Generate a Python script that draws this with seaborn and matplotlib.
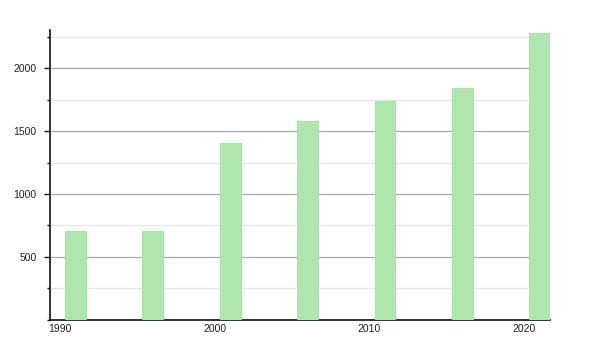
import matplotlib
matplotlib.use("Agg")
import matplotlib.pyplot as plt
import seaborn as sns
import pandas as pd
from matplotlib.ticker import MultipleLocator

years = [1991, 1996, 2001, 2006, 2011, 2016, 2021]
values = [706, 705, 1407, 1583, 1742, 1846, 2282]
xticks = [1990, 2000, 2010, 2020]

df = pd.DataFrame({"year": years, "value": values})

sns.set_style("white")
plt.rcParams["font.family"] = ["Liberation Sans", "DejaVu Sans"]

fig = plt.figure(figsize=(6, 3.5), dpi=100)
ax = fig.add_axes([50/600, 1-319.5/350, 500/600, 289.5/350])

sns.barplot(data=df, x="year", y="value", native_scale=True, width=0.27,
            color="#aee6ae", saturation=1, ax=ax, zorder=3,
            edgecolor="#a6dca6", linewidth=0.6)

ax.set_xlim(1989.35, 2021.66)
ax.set_ylim(0, 2305)
ax.set_xticks(xticks)
ax.set_xticklabels([str(t) for t in xticks])
ax.set_yticks([500, 1000, 1500, 2000])
ax.yaxis.set_minor_locator(MultipleLocator(250))
ax.grid(axis="y", which="major", color="#aaaaaa", linewidth=0.9, zorder=0)
ax.grid(axis="y", which="minor", color="#e6e6e6", linewidth=0.9, zorder=0)
ax.set_axisbelow(True)
ax.set_xlabel("")
ax.set_ylabel("")

for s in ["top", "right"]:
    ax.spines[s].set_visible(False)
for s in ["left", "bottom"]:
    ax.spines[s].set_visible(True)
    ax.spines[s].set_color("#111111")
    ax.spines[s].set_linewidth(1.2)

ax.tick_params(axis="y", which="major", left=True, length=4, width=1, color="#111111",
               labelsize=7.5, labelcolor="#222222", pad=5.5)
ax.tick_params(axis="y", which="minor", left=True, length=2, width=1, color="#111111")
ax.tick_params(axis="x", which="both", bottom=False, length=0, labelsize=7.5,
               labelcolor="#222222", pad=3)

fig.savefig("out.png", dpi=100)
